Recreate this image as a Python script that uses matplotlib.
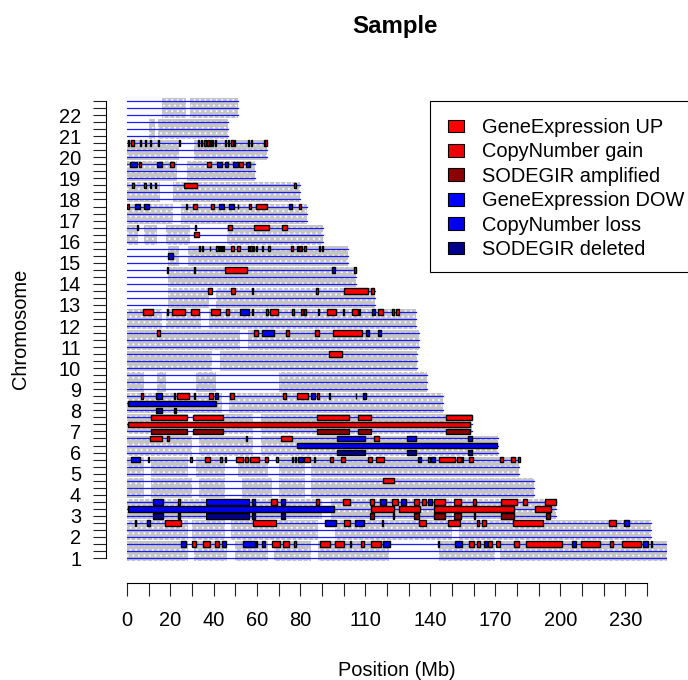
import matplotlib
matplotlib.use('Agg')
import matplotlib.pyplot as plt
from matplotlib.patches import Patch, Rectangle

plt.rcParams['font.family'] = ['Liberation Sans', 'DejaVu Sans']
plt.rcParams['hatch.linewidth'] = 0.6

W, H = 688, 680

# chromosome lengths in Mb, chr1 first
chrom_len = [249, 242, 198, 188, 181, 171, 159, 146, 138.5, 134, 134.7, 133.4,
             114.6, 105.8, 102, 90.6, 83, 80, 59, 64.6, 46.8, 51]

# where the grey probe cloud sits on each chromosome
probe_spans = {
    1: [(0, 28), (31, 46), (50, 65), (68, 85), (88, 121), (144, 170), (172, 249)],
    2: [(0, 28), (30, 45), (48, 88), (96, 150), (153, 242)],
    3: [(0, 14), (16, 24), (25, 36), (38, 45), (47, 90), (94, 150), (152, 198)],
    4: [(0, 8), (11, 30), (33, 45), (53, 67), (70, 82), (85, 188)],
    5: [(0, 8), (11, 28), (32, 45), (51, 65), (70, 82), (85, 181)],
    6: [(0, 30), (33, 58), (62, 171)],
    7: [(0, 28), (31, 58), (62, 159)],
    8: [(0, 44), (47, 146)],
    9: [(0, 8), (14, 18), (32, 41), (70, 138.5)], 10: [(0, 39), (43, 134)],
    11: [(0, 52), (56, 134.7)], 12: [(0, 16), (18, 34), (38, 133.4)],
    13: [(19, 38), (41, 114.6)], 14: [(19, 105.8)], 15: [(19, 24), (28, 102)],
    16: [(0, 5), (8, 14), (18, 29), (46, 90.6)], 17: [(0, 21), (25, 83)],
    18: [(0, 15), (21, 80)], 19: [(0, 23), (27.5, 59)], 20: [(0, 24), (31, 64.6)],
    21: [(10, 13), (14.5, 46.8)], 22: [(16, 27), (29, 51)],
}

# regions per chromosome, (start, end) in Mb
ge_up = {
    1: [(30.2, 31.7), (34.9, 38.3), (40.8, 42.6), (66.9, 70.5), (71.8, 74.9), (76.9, 78.2),
        (88.9, 93.5), (96.2, 100.3), (102.9, 103.5), (108.2, 109.2), (112.5, 117),
        (143.5, 144.1), (158, 160.3), (161.5, 162.9), (166.8, 168.5), (170.3, 171.9),
        (178.6, 181), (184, 200.8), (209.4, 218.5), (222.8, 224.3), (228.2, 237), (241.6, 242.2)],
    2: [(3.5, 4.1), (17.7, 24.8), (58.3, 68.6), (100.3, 102.8), (117.7, 118.3), (134.8, 138),
        (148.3, 153.6), (161.4, 162.5), (163.7, 165.8), (178.3, 192), (222.3, 225.5)],
    3: [(23.6, 24.4), (66.6, 69.4), (87.4, 88.5), (99.8, 102.8), (112.3, 113.8), (122.5, 125),
        (132.6, 134.8), (136.3, 138), (141.9, 146.6), (151, 154), (159.7, 160.9),
        (172.8, 179.9), (182.9, 184.8), (193, 198)],
    4: [(118.2, 123.1)],
    5: [(9.5, 10.1), (29.2, 29.8), (36.2, 38.5), (42.8, 43.7), (45.2, 45.8), (50.5, 53.7),
        (54.5, 55.7), (56.9, 60.8), (63.8, 65), (68.9, 69.5), (76.2, 76.8), (77.4, 78),
        (81.8, 84.3), (86.3, 86.9), (93.7, 94.9), (98.9, 100.8), (111.2, 113), (114.8, 118.4),
        (139.1, 139.7), (144, 151.2), (152.5, 154), (154.6, 155.2), (157.7, 159.5),
        (172, 173.4), (177.4, 179.2), (180.6, 181.2)],
    6: [(10.6, 16.3), (18.5, 19.3), (54.8, 55.2), (71, 76.2), (114, 116.2)],
    7: [(11.2, 27.8), (30.6, 44.2), (87.8, 102.6), (106.8, 112.5), (147, 159)],
    8: [(6.6, 7.2), (21.7, 22.3), (23.2, 28.8), (30.7, 31.3), (38, 39.5), (47.7, 49.2),
        (71.8, 73.4), (78.6, 83.4), (87.9, 88.5), (93.3, 93.7), (105.5, 105.9)],
    10: [(93.4, 99.1)],
    11: [(13.8, 15.4), (58.8, 60.3), (73.2, 74.8), (86.9, 88.5), (95.2, 108.6)],
    12: [(7.5, 11.8), (18.3, 18.9), (20.9, 26.8), (29.4, 33), (38.9, 42.8), (45.7, 46.9),
         (57.5, 58.1), (64.3, 64.9), (66.2, 69.5), (76, 77.2), (80.5, 81.1), (81.9, 82.5),
         (88.2, 88.8), (92.2, 96.5), (99.7, 100.3), (103.7, 106.5), (106.9, 107.5),
         (116, 118), (122.3, 123), (124, 125.5)],
    13: [(37.5, 39.2), (48.2, 50), (57.6, 58), (87.4, 88), (100.3, 111.2), (112.6, 114.2)],
    14: [(18.5, 19.1), (30.7, 31.5), (45, 55.2), (104.9, 105.5)],
    15: [(33.1, 33.7), (34.6, 35.2), (38.1, 38.5), (41.2, 41.8), (42.3, 42.9), (43.2, 43.8),
         (44.3, 44.9), (48.2, 49.5), (50.8, 52.2), (55.9, 56.5), (56.9, 57.5), (58, 58.6),
         (59.4, 60), (62.4, 62.8), (65.1, 65.9), (75.9, 76.5), (78.5, 79.1), (79.5, 80.1),
         (80.3, 80.9), (81.9, 82.5), (88.4, 89.2), (89.8, 90.6)],
    16: [(4.4, 5.2), (31.6, 32), (46.8, 48.3), (58.5, 65.7), (71.4, 73.7)],
    17: [(0.2, 0.8), (27.3, 27.7), (30.6, 32.2), (38.9, 40.3), (51, 51.4), (56.4, 57.2),
         (59.7, 64.5), (79.5, 80.1)],
    18: [(2.5, 3.1), (7.8, 8.8), (10.6, 11.2), (12.9, 13.5), (26.5, 32.2), (77.2, 78.2)],
    19: [(5.4, 6.3), (20, 21.7), (36.8, 38.6), (51.7, 53.4)],
    20: [(0.5, 1.1), (1.8, 3.2), (6.1, 6.5), (8.3, 8.9), (10.6, 11.2), (14.3, 14.7), (23.8, 24.4),
         (32.7, 33.3), (34.2, 34.8), (35.6, 36.4), (37, 38), (38.2, 38.8), (39.2, 39.8), (40.6, 41),
         (45.2, 45.8), (46.7, 47.3), (48.2, 48.8), (49.2, 49.8), (55.7, 56.3), (57.2, 57.8),
         (63.1, 63.7), (63.9, 64.5)],
}
ge_down = {
    1: [(24.9, 27.4), (43.8, 45.8), (53.5, 58.9), (59.5, 60.1), (62.3, 63.7), (118.3, 121.4),
        (151.4, 154.5), (164.6, 166), (205.5, 207.1), (238.3, 240.2)],
    2: [(9.4, 10.8), (91.5, 96.6), (105.4, 109.5), (229.5, 231.7)],
    3: [(12.2, 16.6), (36.6, 56.2), (57.5, 58.9), (71.2, 72.8), (116.9, 119.4), (126.5, 128.6),
        (138.9, 140.8)],
    5: [(1.7, 5.8), (78.9, 81), (134.2, 135.5), (140.5, 142)],
    6: [(97, 109.7), (129.2, 133.3), (157.5, 159.2)],
    8: [(13.5, 16), (40.8, 42), (85, 86.9), (108.9, 110.3)],
    11: [(62.3, 67.7), (110.5, 111.7), (115.7, 117)],
    12: [(52.3, 56.2), (113, 114.6)],
    14: [(94.5, 95.8)],
    17: [(3.7, 5.8), (8, 10.2), (42.6, 44.8), (47.2, 49.2), (74.9, 76.3)],
    19: [(1.4, 4.5), (13.8, 16.2), (41.5, 43.7), (45.2, 46.8), (48.8, 51), (55, 56.6)],
}
cn_gain = {
    3: [(112.7, 123.2), (125.7, 135.1), (141.9, 178.5), (188.4, 195.7)],
    7: [(0.6, 158.5)],
    16: [(31, 33.2)],
}
cn_loss = {
    3: [(0.3, 95.4)],
    6: [(78.3, 170.8)],
    8: [(0.3, 40.9)],
    15: [(19, 21)],
}
sod_amp = {
    3: [(112.3, 113.8), (122.7, 123.3), (132.6, 134.8), (141.9, 146.6), (151, 154),
        (160, 160.6), (172.8, 178.5), (193.2, 195.4)],
    7: [(11.2, 27.8), (30.6, 44.2), (87.8, 102.6), (106.8, 112.5), (147, 158.5)],
}
sod_del = {
    3: [(12.2, 16.6), (23.6, 24.4), (36.6, 56.2), (57.5, 58.9), (71.2, 72.8)],
    6: [(97, 109.7), (129.2, 133.3), (157.5, 159.2)],
    8: [(13.5, 16), (21.9, 22.5)],
}

x_ticks = list(range(0, 250, 10))
x_label_pos = [0, 20, 40, 60, 80, 110, 140, 170, 200, 230]
legend_labels = ['GeneExpression UP', 'CopyNumber gain', 'SODEGIR amplified',
                 'GeneExpression DOW', 'CopyNumber loss', 'SODEGIR deleted']
legend_colors = ['#ff0000', '#ee0000', '#8b0000', '#0000ff', '#0000ee', '#00008b']


def row_of(chrom, offset):
    return (chrom - 1) * 3 + offset


def draw_regions(ax, regions, offset, color):
    for chrom, spans in regions.items():
        for start, end in spans:
            ax.barh(row_of(chrom, offset), end - start, left=start, height=0.8, color=color,
                    edgecolor='black', linewidth=1.0, zorder=3)


fig = plt.figure(figsize=(W / 100, H / 100), dpi=100)
# plot region in pixels: x 127..667, y 98..562
ax = fig.add_axes([127 / W, 1 - 562 / H, 540 / W, 464 / H])
ax.set_xlim(0, 540 / 2.167)
ax.set_ylim(-4 / 7.03, 460 / 7.03)
ax.patch.set_alpha(0)

for i, length in enumerate(chrom_len):
    chrom = i + 1
    for start, end in probe_spans[chrom]:
        ax.barh(row_of(chrom, 1), end - start, left=start, height=2.85, color='#c4c4c4',
                hatch='...', edgecolor='white', linewidth=0, zorder=1)
    for offset in range(3):
        ax.plot([0, length], [row_of(chrom, offset)] * 2, color='#1a1aff', lw=0.9, zorder=2)

draw_regions(ax, ge_up, 2, legend_colors[0])
draw_regions(ax, ge_down, 2, legend_colors[3])
draw_regions(ax, cn_gain, 1, legend_colors[1])
draw_regions(ax, cn_loss, 1, legend_colors[4])
draw_regions(ax, sod_amp, 0, legend_colors[2])
draw_regions(ax, sod_del, 0, legend_colors[5])

for side in ['top', 'right']:
    ax.spines[side].set_visible(False)
ax.spines['left'].set_position(('outward', 15.1))
ax.spines['bottom'].set_position(('outward', 15.1))
ax.spines['left'].set_bounds(0, 65)
ax.spines['bottom'].set_bounds(0, 240)
ax.spines['left'].set_linewidth(0.8)
ax.spines['bottom'].set_linewidth(0.8)

# one tick per row, a label only on the bottom row of each chromosome
ax.set_yticks(range(0, 66))
ax.set_yticklabels([str(r // 3 + 1) if r % 3 == 0 else '' for r in range(0, 66)])
ax.set_xticks(x_ticks)
ax.set_xticklabels([str(t) if t in x_label_pos else '' for t in x_ticks])
ax.tick_params(axis='both', length=9.4, width=0.8, labelsize=14.4, color='#222222')
ax.tick_params(axis='x', pad=11)
ax.tick_params(axis='y', pad=8.5)

fig.text(395 / W, 1 - 27 / H, 'Sample', fontsize=17.3, fontweight='bold', ha='center', va='center')
fig.text(397 / W, 1 - 670 / H, 'Position (Mb)', fontsize=14.4, ha='center', va='center')
fig.text(21 / W, 1 - 329 / H, 'Chromosome', fontsize=14.4, rotation=90, ha='center', va='center')

# legend box runs off the right edge of the picture, so it is drawn on its own
ax.add_patch(Rectangle((430 / W, 1 - 272 / H), 270 / W, 171 / H, transform=fig.transFigure,
                       facecolor='white', edgecolor='black', linewidth=0.8, clip_on=False, zorder=4))
handles = [Patch(facecolor=c, edgecolor='black', linewidth=0.8) for c in legend_colors]
leg = ax.legend(handles, legend_labels, loc='upper left', bbox_to_anchor=(431.5 / W, 1 - 101 / H),
                bbox_transform=fig.transFigure, borderaxespad=0, fontsize=14.4, frameon=False,
                borderpad=0.85, handlelength=0.8, handleheight=0.6, handletextpad=0.9,
                labelspacing=0.27)
leg.set_zorder(5)

fig.savefig('out.png', dpi=100)
